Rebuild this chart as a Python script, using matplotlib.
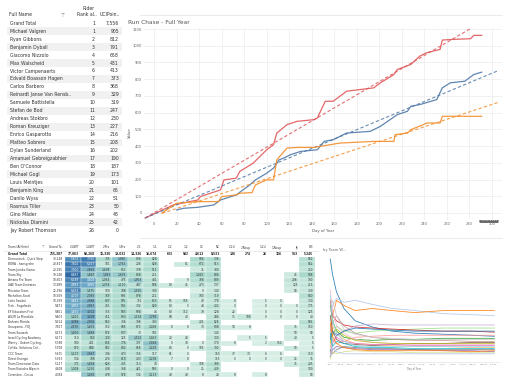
import matplotlib.pyplot as plt
import numpy as np
from matplotlib.colors import LinearSegmentedColormap, PowerNorm
from matplotlib.patches import Rectangle

plt.rcParams['font.family'] = ['DejaVu Sans']

# ---- rider ranking table ----
rider_names = ['Grand Total', 'Michael Valgren', 'Ryan Gibbons', 'Benjamin Dyball',
               'Giacomo Nizzolo', 'Max Walscheid', 'Victor Campenaerts',
               'Edvald Boasson Hagen', 'Carlos Barbero', 'Reinardt Janse Van Rensb..',
               'Samuele Battistella', 'Stefan de Bod', 'Andreas Stokbro',
               'Roman Kreuziger', 'Enrico Gasparotto', 'Matteo Sobrero',
               'Dylan Sunderland', 'Amanuel Gebreigzabhier', "Ben O'Connor",
               'Michael Gogl', 'Louis Meintjes', 'Benjamin King', 'Danilo Wyss',
               'Rasmus Tiller', 'Gino Mäder', 'Nickolas Dlamini', 'Jay Robert Thomson']
rider_rank = [1, 1, 2, 3, 4, 5, 6, 7, 8, 9, 10, 11, 12, 13, 14, 15, 16, 17, 18,
              19, 20, 21, 22, 23, 24, 25, 26]
rider_points = [7556, 905, 812, 791, 658, 431, 413, 373, 368, 329, 319, 247, 230,
                227, 216, 208, 202, 190, 187, 173, 101, 65, 51, 50, 48, 42, 0]

# ---- run chase (day of year, cumulative value) ----
red_days = [-8, 17, 39, 41, 59, 62, 73, 76, 88, 100, 106, 109, 118, 127, 142, 145,
            152, 159, 171, 183, 195, 201, 213, 216, 228, 236, 242, 254, 256, 266,
            281, 284, 291]
red_vals = [-30, 48, 78, 98, 138, 198, 208, 248, 298, 378, 408, 478, 528, 548, 558,
            568, 668, 668, 728, 738, 748, 778, 828, 858, 888, 938, 958, 978, 1034,
            1038, 1042, 1062, 1062]
blue_days = [20, 26, 39, 53, 59, 73, 79, 85, 90, 100, 106, 111, 115, 121, 130, 145,
             151, 159, 171, 192, 201, 216, 225, 228, 236, 251, 256, 263, 276, 284, 291]
blue_vals = [18, 28, 34, 48, 78, 108, 138, 168, 198, 238, 268, 318, 328, 348, 368,
             378, 428, 438, 478, 488, 518, 588, 608, 638, 648, 678, 748, 778, 788,
             828, 842]
orange_days = [7, 20, 39, 57, 60, 73, 76, 87, 90, 100, 106, 109, 118, 127, 142, 165,
               195, 213, 214, 225, 228, 239, 242, 254, 256, 266, 291]
orange_vals = [0, 58, 68, 68, 98, 108, 118, 122, 168, 198, 198, 318, 388, 392, 392,
               418, 428, 428, 468, 478, 498, 528, 538, 538, 578, 578, 578]
# dashed trend lines: (start day, end day), (start value, end value)
red_trend = ([-8, 285], [-30, 1118])
blue_trend = ([-8, 306], [-30, 852])
orange_trend = ([7, 306], [-2, 662])

# ---- team heat table ----
heat_cols = ['2.UWT', '1.UWT', '2.Pro', '1.Pro', '2.1', '1.1', '2.2', '1.2', 'CC',
             'NC', '2.2U', '2.Ncup', '1.2U', '1.Ncup', 'JR', 'WC']
teams = ['Deceuninck - Quick Step', 'BORA - hansgrohe', 'Team Jumbo-Visma', 'Team Sky',
         'Astana Pro Team', 'UAE Team Emirates', 'Movistar Team', 'Mitchelton-Scott',
         'Lotto Soudal', 'Trek - Segafredo', 'EF Education First', 'AG2R La Mondiale',
         'Bahrain Merida', 'Groupama - FDJ', 'Team Sunweb', 'Israel Cycling Academy',
         'Wanty - Gobert Cycling..', 'Cofidis, Solutions Cré..', 'CCC Team',
         'Direct Energie', 'Team Dimension Data', 'Team Katusha Alpecin',
         'Corendon - Circus']
team_totals = [30248, 23827, 20295, 19148, 18653, 13989, 12196, 10509, 10369, 9871,
               9851, 9803, 9314, 7917, 6573, 6171, 5788, 5708, 5675, 5363, 5127, 4608,
               4384]
N = None
heat_values = [
    [5813, 7356, 735, 1990, 636, 628, N, N, 986, 736, N, N, N, N, N, 550],
    [7802, 6357, 181, 1763, 208, 628, N, 81, 672, 513, N, N, N, N, N, 562],
    [7000, 2826, 1438, 852, 378, 911, N, N, 71, 380, N, N, N, N, N, 250],
    [8867, 1867, 1983, 1639, 868, 251, N, N, 1050, 886, N, N, N, N, 45, 988],
    [6549, 4604, 1064, 475, 1903, 481, N, 9, 708, 889, N, N, N, N, 298, 190],
    [4993, 3950, 1378, 1110, 447, 588, 80, 45, 273, 137, N, N, N, N, 125, 215],
    [6633, 1575, 100, 708, 1535, 330, N, N, 0, 140, N, N, N, N, 50, 140],
    [4707, 2093, 759, 695, 878, 251, N, N, 190, 319, N, N, N, N, N, 540],
    [3851, 2988, 887, 995, 151, 853, 85, 165, 49, 178, 8, N, 5, 0, N, 130],
    [3902, 2967, 455, 905, 302, 629, 80, 0, 48, 402, 0, N, 0, 0, 0, 175],
    [3870, 3312, 353, 983, 608, 46, 80, 112, 79, 128, 22, N, 0, 0, 0, 125],
    [1421, 3408, 451, 863, 1164, 1788, 84, 40, N, 246, 35, 188, 0, 0, 0, 40],
    [3389, 2908, 563, 306, 398, 383, N, N, 201, 528, N, N, N, N, N, 585],
    [2570, 1839, 150, 685, 573, 1058, 8, 8, 39, 638, 18, 8, N, N, 75, 150],
    [1806, 1848, 574, 637, 73, 181, N, N, N, 140, N, N, N, N, 90, 50],
    [110, 940, 720, 125, 1522, 1053, 20, 28, N, 300, N, 5, 5, N, 40, 5],
    [180, 281, 865, 776, 397, 2028, 0, 38, 0, 170, 8, N, 2, 150, N, 5],
    [570, 848, 582, 882, 658, 1428, 80, 0, 105, 390, N, N, N, N, 90, 5],
    [1117, 2667, 306, 473, 356, 117, 61, 0, N, 150, 37, 73, 6, 6, N, 110],
    [134, 708, 274, 819, 403, 1258, 7, 8, N, 115, 0, 0, 0, 0, 25, 75],
    [771, 1818, 626, 405, 313, 78, N, N, 108, 709, N, N, N, N, 75, 205],
    [1008, 1250, 408, 368, 421, 593, 0, 0, 25, 409, N, N, N, N, N, 100],
    [N, 1858, 478, 578, 134, 1113, 48, 48, 8, 28, 8, N, 8, N, N, 50],
]

# ---- avg by team over the year ----
team_days = [1, 5, 12, 25, 45, 75, 110, 150, 200, 250, 290]
team_lines = [
    [100, 85, 68, 52, 40, 34, 30, 28, 27, 26, 25],
    [40, 55, 62, 58, 60, 56, 52, 50, 47, 46, 45],
    [30, 45, 60, 55, 50, 52, 50, 48, 50, 50, 50],
    [20, 35, 28, 22, 18, 17, 16, 15, 15, 14, 14],
    [55, 40, 30, 24, 22, 21, 22, 22, 23, 23, 23],
    [10, 25, 35, 30, 28, 30, 31, 32, 33, 33, 33],
    [60, 45, 40, 36, 34, 33, 32, 31, 30, 30, 29],
    [15, 22, 18, 20, 24, 25, 26, 26, 26, 26, 26],
    [5, 12, 15, 14, 13, 12, 12, 12, 11, 11, 10],
    [35, 20, 25, 30, 35, 37, 36, 36, 36, 36, 36],
    [45, 30, 22, 18, 17, 16, 17, 18, 18, 19, 19],
    [25, 38, 45, 35, 28, 24, 22, 21, 21, 20, 20],
    [8, 18, 24, 20, 18, 17, 17, 16, 16, 16, 16],
    [70, 50, 35, 28, 22, 19, 18, 17, 17, 17, 17],
    [12, 8, 12, 15, 14, 13, 13, 12, 12, 12, 12],
    [50, 60, 45, 32, 27, 24, 23, 22, 22, 22, 22],
    [18, 28, 32, 26, 21, 19, 18, 18, 18, 18, 18],
    [3, 10, 8, 10, 11, 10, 10, 9, 9, 9, 9],
    [28, 15, 20, 18, 15, 14, 14, 13, 13, 13, 13],
    [65, 40, 28, 20, 16, 15, 15, 15, 15, 15, 15],
    [22, 30, 26, 30, 33, 32, 31, 30, 30, 30, 30],
    [6, 14, 10, 8, 8, 8, 8, 8, 8, 8, 8],
    [38, 25, 18, 14, 12, 11, 11, 11, 11, 10, 11],
]
team_tick_labels = ['Jan 1', 'Jan 19', 'Feb 6', 'Feb 24', 'Mar 14', 'Apr 1', 'Apr 19',
                    'May 7', 'May 25', 'Jun 12', 'Jun 30', 'Jul 18', 'Aug 5', 'Aug 23',
                    'Sep 10', 'Sep 28', 'Oct 16']

fig = plt.figure(figsize=(5.1, 3.85), dpi=100)
bg = fig.add_axes([0, 0, 1, 1])
bg.set_xlim(0, 510)
bg.set_ylim(385, 0)
bg.axis('off')

txt = '#333333'
fs = 3.3

# rider table
bg.text(9, 15, 'Full Name', fontsize=fs, color=txt, va='center')
bg.text(61, 15, '⊤', fontsize=fs, color='#777777', va='center')
bg.text(95, 9, 'Rider', fontsize=fs, color=txt, va='center', ha='right')
bg.text(97, 15, 'Rank al..', fontsize=fs, color=txt, va='center', ha='right')
bg.text(120, 15, 'UCIPoin..', fontsize=fs, color=txt, va='center', ha='right')
for i, name in enumerate(rider_names):
    y = 23.3 + i * 7.95
    if i % 2 == 1:
        bg.add_patch(Rectangle((7, y - 3.9), 115, 7.8, color='#f1f1f1', lw=0))
    bg.text(10, y, name, fontsize=fs, color=txt, va='center')
    bg.text(95, y, str(rider_rank[i]), fontsize=fs, color=txt, va='center', ha='right')
    bg.text(119, y, f'{rider_points[i]:,}', fontsize=fs, color=txt, va='center', ha='right')

# separators
bg.plot([140, 502], [15, 15], color='#e6e6e6', lw=0.6)
bg.plot([140, 502], [238, 238], color='#e6e6e6', lw=0.6)

# run chase chart
ax = fig.add_axes([144 / 510, 1 - 220 / 385, 358 / 510, 192 / 385])
ax.set_xlim(-9, 309)
ax.set_ylim(-42, 1106)
series = [(red_days, red_vals, red_trend, '#e15759'),
          (blue_days, blue_vals, blue_trend, '#4e79a7'),
          (orange_days, orange_vals, orange_trend, '#f28e2b')]
for d, v, tr, c in series:
    ax.plot(d, v, color=c, lw=0.9, alpha=0.9)
    ax.plot(tr[0], tr[1], color=c, lw=0.8, ls=(0, (3, 2)), alpha=0.85)
ax.set_xticks(np.arange(0, 301, 20))
ax.set_yticks(np.arange(0, 1101, 100))
ax.grid(color='#ececec', lw=0.5)
ax.set_axisbelow(True)
ax.tick_params(length=0, labelsize=2.6, labelcolor='#666666', pad=1.5)
for s in ax.spines.values():
    s.set_visible(False)
ax.set_xlabel('Day of Year', fontsize=2.8, color='#555555', labelpad=2)
bg.text(130, 133, 'Value', fontsize=2.8, color='#555555', rotation=90, va='center', ha='center')
bg.text(128, 22, 'Run Chase - Full Year', fontsize=4.2, color='#555555', va='center')
bg.text(489, 220, '10/18/2019', fontsize=2.2, color='white', va='center', ha='center',
        bbox=dict(boxstyle='round,pad=0.3', fc='#666666', ec='none'))

# heat table
col_x = [73 + 15.6 * k for k in range(len(heat_cols))]
cmap = LinearSegmentedColormap.from_list('heat', ['#d8efe6', '#a9d9cc', '#6aa6c6', '#2f69a5'])
norm = PowerNorm(0.5, vmin=0, vmax=9000)
hfs = 2.1
bg.text(8, 247.5, 'Team (Athlete)', fontsize=hfs, color=txt, va='center')
bg.text(42, 247.5, '⊤', fontsize=hfs, color='#777777', va='center')
bg.text(63, 247.5, 'Grand To..', fontsize=hfs, color=txt, va='center', ha='right')
for k, c in enumerate(heat_cols):
    bg.text(col_x[k] + 6.3, 247.5, c, fontsize=hfs, color=txt, va='center', ha='right')
bg.plot([3, 318], [250.5, 250.5], color='#dddddd', lw=0.4)
bg.text(8, 253.7, 'Grand Total', fontsize=hfs, color='#222222', va='center', weight='bold')
bg.text(63, 253.7, f'{sum(team_totals):,}', fontsize=hfs, color='#222222', va='center',
        ha='right', weight='bold')
for k in range(len(heat_cols)):
    colvals = [row[k] for row in heat_values if row[k] is not None]
    bg.text(col_x[k] + 6.3, 253.7, f'{sum(colvals):,}', fontsize=hfs, color='#222222',
            va='center', ha='right', weight='bold')
for i, team in enumerate(teams):
    y = 259.2 + i * 5.25
    bg.text(8, y, team, fontsize=hfs, color=txt, va='center')
    bg.text(63, y, f'{team_totals[i]:,}', fontsize=hfs, color=txt, va='center', ha='right')
    for k, v in enumerate(heat_values[i]):
        if v is None:
            continue
        bg.add_patch(Rectangle((col_x[k] - 7.8, y - 2.62), 15.6, 5.25,
                               fc=cmap(norm(v)), ec='white', lw=0.2))
        tc = 'white' if v > 3500 else '#333333'
        bg.text(col_x[k] + 6.3, y, f'{v:,}', fontsize=hfs, color=tc, va='center', ha='right')

# avg by team chart
ax2 = fig.add_axes([328 / 510, 1 - 362 / 385, 172 / 510, 107 / 385])
colors = plt.get_cmap('tab20').colors
for j, vals in enumerate(team_lines):
    ax2.plot(team_days, vals, color=colors[j % 20], lw=0.6, alpha=0.9)
ax2.set_xlim(-3, 300)
ax2.set_ylim(0, 104)
ax2.set_xticks(np.arange(0, 290, 18))
ax2.set_xticklabels(team_tick_labels)
ax2.set_yticks([])
ax2.grid(axis='y', color='#f0f0f0', lw=0.4)
for s in ax2.spines.values():
    s.set_visible(False)
ax2.spines['bottom'].set_visible(True)
ax2.spines['bottom'].set_color('#dddddd')
ax2.spines['bottom'].set_linewidth(0.4)
ax2.tick_params(length=0, labelsize=1.4, labelcolor='#777777', pad=1.5)
ax2.set_xlabel('Day of Year', fontsize=1.8, color='#777777', labelpad=1)
bg.text(323, 250, 'by Team W...', fontsize=2.6, color='#666666', va='center')

fig.savefig('out.png', dpi=100)
